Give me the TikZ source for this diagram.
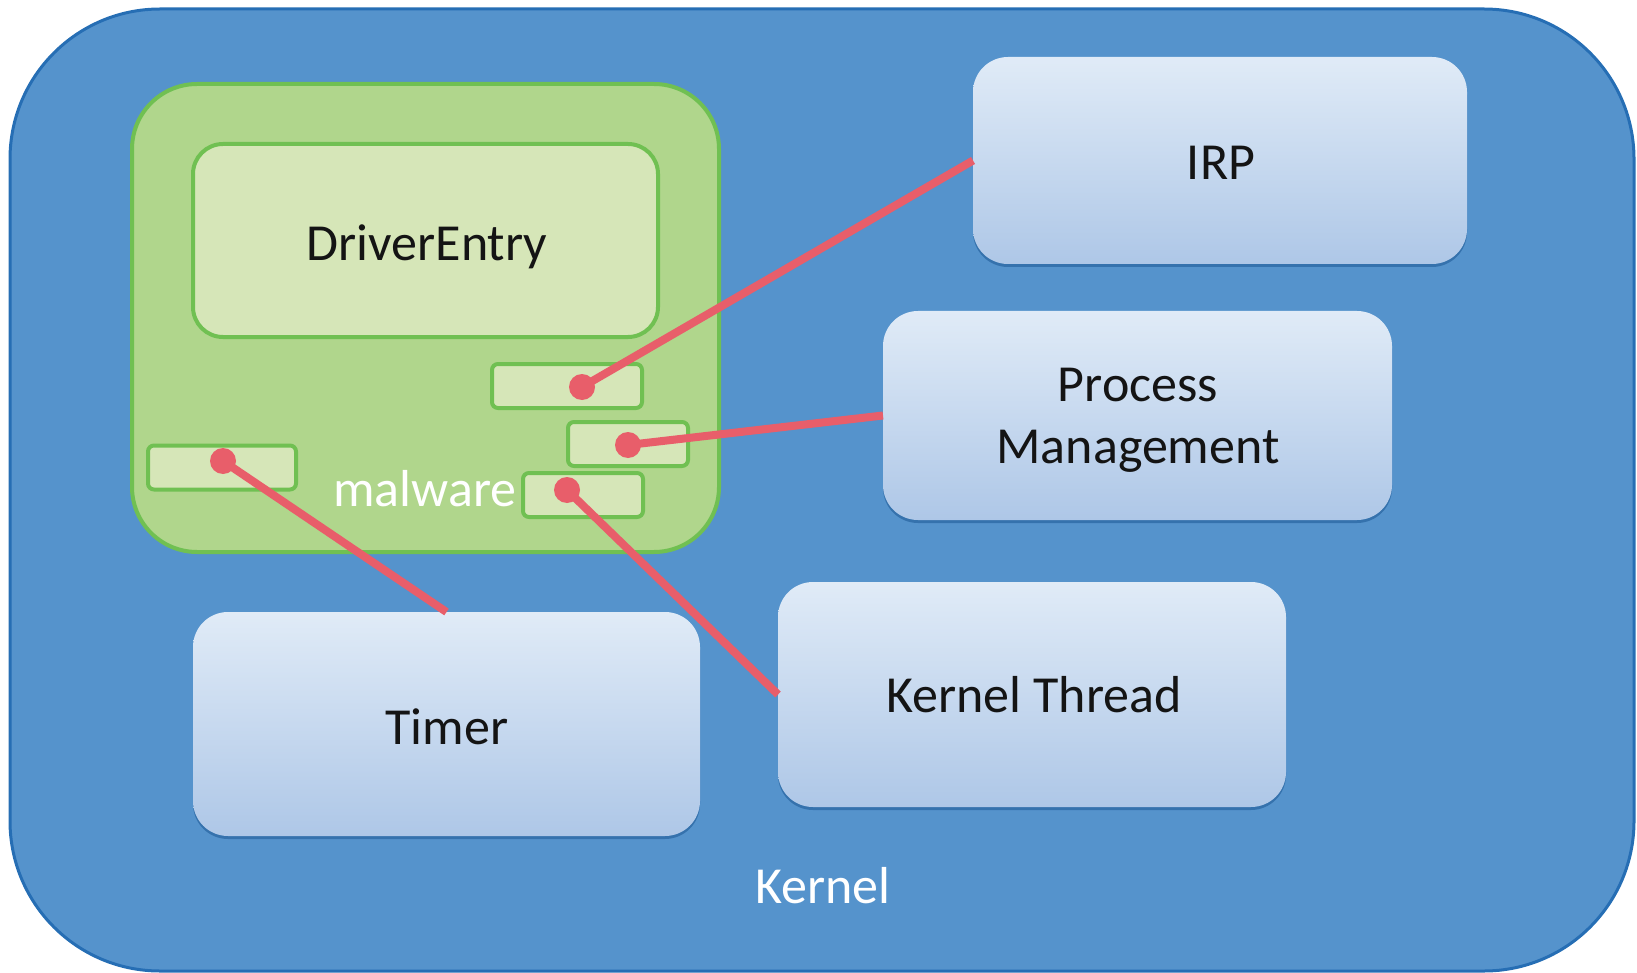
\documentclass[tikz,border=0pt]{standalone}
\usepackage{fontspec}
\setmainfont{Carlito}
\usetikzlibrary{shadows}
\definecolor{kfill}{RGB}{85,147,204}
\definecolor{kedge}{RGB}{38,110,180}
\definecolor{mfill}{RGB}{176,214,140}
\definecolor{medge}{RGB}{112,192,82}
\definecolor{lgfill}{RGB}{214,230,184}
\definecolor{btop}{RGB}{224,235,247}
\definecolor{bbot}{RGB}{174,199,231}
\definecolor{linkred}{RGB}{232,94,106}
\definecolor{ink}{RGB}{20,20,20}
\begin{document}
\begin{tikzpicture}[x=1pt,y=-1pt,
  every node/.style={inner sep=0pt, outer sep=0pt},
  bigtext/.style={font=\fontsize{52}{62}\selectfont},
  kernelbox/.style={draw=kedge, line width=3pt, fill=kfill, rounded corners=150pt},
  malbox/.style={draw=medge, line width=4pt, fill=mfill, rounded corners=65pt},
  entrybox/.style={draw=medge, line width=4pt, fill=lgfill, rounded corners=30pt},
  slotbox/.style={draw=medge, line width=4pt, fill=lgfill, rounded corners=6pt, minimum height=44pt},
  apibox/.style={rounded corners=35pt, top color=btop, bottom color=bbot,
    drop shadow={shadow xshift=0pt, shadow yshift=-3pt, fill=kedge!85!black, opacity=0.6}},
  boxlabel/.style={bigtext, text=ink, align=center},
  hook/.style={draw=linkred, line width=8pt},
  hookdot/.style={fill=linkred}
]
\useasboundingbox (0,0) rectangle (1637,973);

% kernel space
\node[kernelbox, minimum width=1624pt, minimum height=962pt] (kernel) at (822,490) {};
\node[bigtext, text=white] (kernellbl) at (823,886) {Kernel};

% kernel services
\node[apibox, minimum width=494pt, minimum height=207pt] (irp) at (1220,160.5) {};
\node[apibox, minimum width=509pt, minimum height=209pt] (proc) at (1137.5,415.5) {};
\node[apibox, minimum width=507pt, minimum height=224pt] (timer) at (446.5,724) {};
\node[apibox, minimum width=508pt, minimum height=225pt] (kthread) at (1032,694.5) {};
\node[boxlabel] (irplbl) at (1221,163) {IRP};
\node[boxlabel] (proclbl) at (1138,420) {Process\\Management};
\node[boxlabel] (timerlbl) at (447,727) {Timer};
\node[boxlabel] (kthreadlbl) at (1034,695) {Kernel Thread};

% malicious driver
\node[malbox, minimum width=587pt, minimum height=468pt] (malware) at (425.5,318) {};
\node[entrybox, minimum width=465pt, minimum height=193pt] (entry) at (425.5,240.5) {};
\node[boxlabel] (entrylbl) at (427,247) {DriverEntry};
\node[slotbox, minimum width=150pt] (s1) at (567,386) {};
\node[slotbox, minimum width=120pt] (s2) at (628,444) {};
\node[slotbox, minimum width=120pt] (s3) at (583,495) {};
\node[slotbox, minimum width=148pt] (s4) at (222,467.5) {};
\node[bigtext, text=white] (mallbl) at (425,489) {malware};

% hook points inside the driver
\coordinate (d1) at (582,387);
\coordinate (d2) at (628,445);
\coordinate (d3) at (567,490);
\coordinate (d4) at (223,461);

% registrations
\draw[hook] (d1) -- (irp.west);
\draw[hook] (d2) -- (proc.west);
\draw[hook] (d3) -- (kthread.west);
\draw[hook] (d4) -- (timer.north);
\foreach \d in {d1,d2,d3,d4} \fill[hookdot] (\d) circle (13pt);
\end{tikzpicture}
\end{document}
